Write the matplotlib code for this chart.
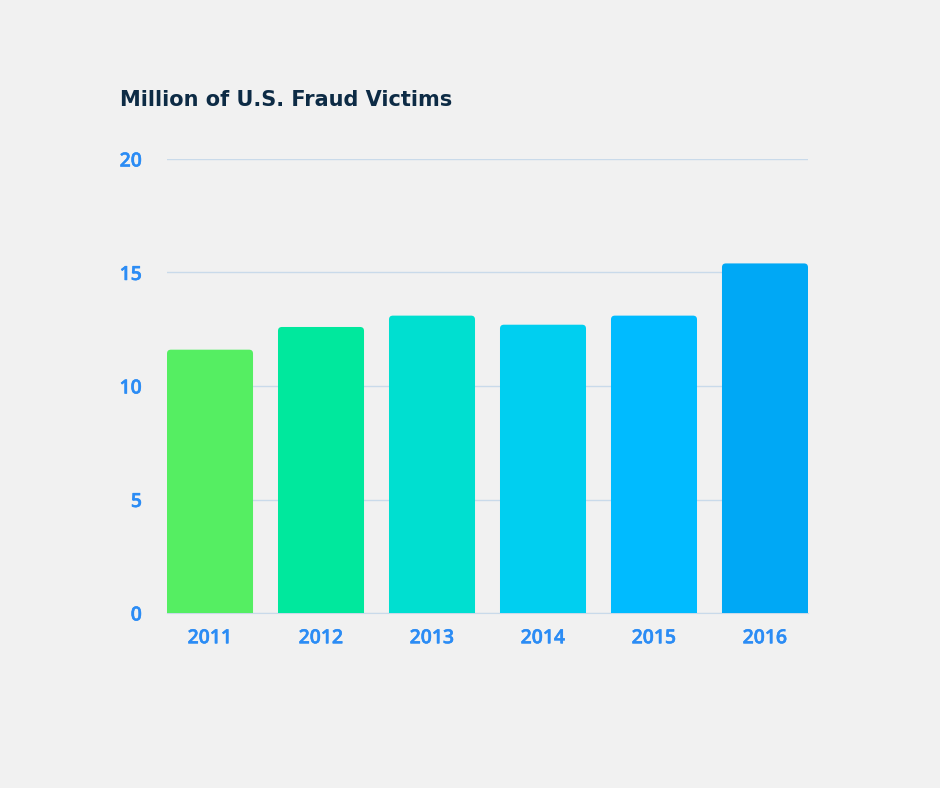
import matplotlib.pyplot as plt
import matplotlib.patheffects as pe
from matplotlib.patches import FancyBboxPatch

years = ["2011", "2012", "2013", "2014", "2015", "2016"]
victims = [11.6, 12.6, 13.1, 12.7, 13.1, 15.4]
colores = ["#55EE62", "#00E89D", "#00DFD0", "#00CFF0", "#00BBFF", "#00A8F5"]
y_ticks = [0, 5, 10, 15, 20]

fondo = "#F1F1F1"
azul = "#2B8CF5"

fig = plt.figure(figsize=(9.4, 7.88), dpi=100, facecolor=fondo)
ax = fig.add_axes([167 / 940, 175 / 788, 641 / 940, 454 / 788], facecolor=fondo)

ancho = 0.775
posiciones = list(range(len(years)))
barras = ax.bar(posiciones, victims, width=ancho, color=colores, alpha=0)

# barras con esquinas redondeadas (se extienden bajo el 0 y se recortan)
r = 0.035
for b, c in zip(barras, colores):
    x0 = b.get_x()
    h = b.get_height()
    p = FancyBboxPatch((x0 + r, -2), ancho - 2 * r, h + 2 - r * 4.9,
                       boxstyle=f"round,pad={r},rounding_size={r}",
                       mutation_aspect=4.9, facecolor=c, edgecolor="none", zorder=3)
    ax.add_patch(p)

fuente_ticks = dict(family="Open Sans", weight="semibold", size=14, color=azul)
grosor = [pe.withStroke(linewidth=0.35, foreground=azul)]

ax.set_xlim(-ancho / 2, len(years) - 1 + ancho / 2)
ax.set_ylim(0, 20)
ax.set_yticks(y_ticks)
ax.set_yticklabels([str(v) for v in y_ticks], fontdict=fuente_ticks)
ax.set_xticks(posiciones)
ax.set_xticklabels(years, fontdict=fuente_ticks)
for t in ax.get_xticklabels() + ax.get_yticklabels():
    t.set_path_effects(grosor)
ax.grid(axis="y", color="#C9DAEA", linewidth=1)
ax.set_axisbelow(True)
for s in ["top", "right", "left"]:
    ax.spines[s].set_visible(False)
ax.spines["bottom"].set_color("#C9DAEA")
ax.tick_params(length=0)
ax.tick_params(axis="x", pad=11)
ax.tick_params(axis="y", pad=18)

fig.text(120 / 940, 1 - 100 / 788, "Million of U.S. Fraud Victims", fontsize=15,
         fontweight="bold", color="#0D2B45", family="DejaVu Sans", va="center", ha="left")

fig.savefig("out.png", dpi=100, facecolor=fondo)
